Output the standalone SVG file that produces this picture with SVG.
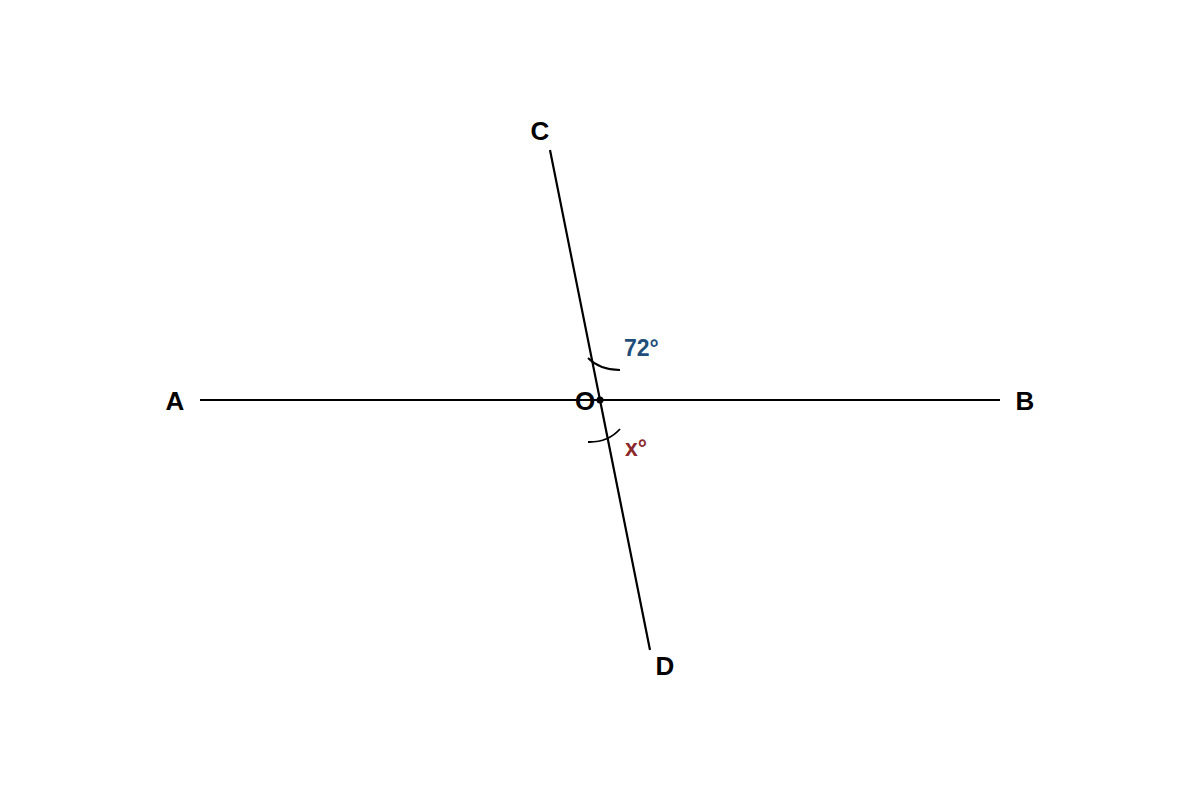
<svg xmlns="http://www.w3.org/2000/svg" width="1200" height="800" viewBox="0 0 1200 800">
<style>
.ln{stroke:#000;stroke-width:2.2;fill:none;stroke-linecap:butt}
.arc{stroke:#000;stroke-width:1.8;fill:none}
.lbl{font-family:"Liberation Sans",Arial,sans-serif;font-weight:bold;font-size:26px;fill:#000;text-anchor:middle}
.ang{font-family:"Liberation Sans",Arial,sans-serif;font-weight:bold;font-size:23px}
</style>
<rect width="1200" height="800" fill="#fff"/>
<g id="connectors">
<line class="ln" x1="200" y1="400" x2="1000" y2="400"/>
<line class="ln" x1="550" y1="150" x2="650" y2="650"/>
<path class="arc" d="M588,358 Q600,370 620,370"/>
<path class="arc" d="M588,442 Q608,442.5 620,429"/>
</g>
<g id="O"><circle cx="600" cy="400" r="3.5" fill="#000"/><text class="lbl" x="585" y="410">O</text></g>
<g id="A"><text class="lbl" x="175" y="410">A</text></g>
<g id="B"><text class="lbl" x="1025" y="410">B</text></g>
<g id="C"><text class="lbl" x="540" y="140">C</text></g>
<g id="D"><text class="lbl" x="665" y="675">D</text></g>
<g id="angle72"><text class="ang" x="624" y="356" fill="#1f4e79">72°</text></g>
<g id="anglex"><text class="ang" x="625" y="456" fill="#8b2a2a">x°</text></g>
</svg>
